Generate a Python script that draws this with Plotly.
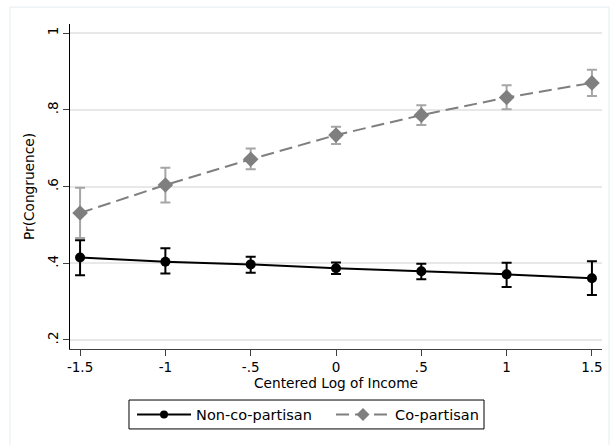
import plotly.graph_objects as go

income = [-1.5, -1, -0.5, 0, 0.5, 1, 1.5]

non_co = [0.415, 0.404, 0.397, 0.387, 0.379, 0.371, 0.361]
non_co_hi = [0.460, 0.439, 0.417, 0.402, 0.399, 0.401, 0.405]
non_co_lo = [0.369, 0.373, 0.375, 0.372, 0.358, 0.338, 0.317]

co = [0.531, 0.604, 0.671, 0.734, 0.786, 0.832, 0.870]
co_hi = [0.597, 0.649, 0.699, 0.756, 0.812, 0.864, 0.904]
co_lo = [0.466, 0.558, 0.645, 0.711, 0.760, 0.801, 0.836]

x_ticks = [-1.5, -1, -0.5, 0, 0.5, 1, 1.5]
x_ticklabels = ["-1.5", "-1", "-.5", "0", ".5", "1", "1.5"]
y_ticks = [0.2, 0.4, 0.6, 0.8, 1.0]
y_ticklabels = [".2", ".4", ".6", ".8", "1"]

FONT = "DejaVu Sans, sans-serif"
CO_LINE = dict(color="#7f7f7f", width=2, dash="13px,6px")

fig = go.Figure()
fig.add_trace(go.Scatter(
    x=income, y=non_co, name="Non-co-partisan", mode="lines+markers",
    line=dict(color="black", width=2),
    marker=dict(symbol="circle", size=10, color="black"),
    showlegend=False,
    error_y=dict(type="data", symmetric=False,
                 array=[h - v for h, v in zip(non_co_hi, non_co)],
                 arrayminus=[v - l for v, l in zip(non_co, non_co_lo)],
                 color="black", thickness=2, width=5),
))
fig.add_trace(go.Scatter(
    x=income, y=co, name="Co-partisan", mode="lines+markers",
    line=CO_LINE,
    marker=dict(symbol="diamond", size=12, color="#7f7f7f"),
    showlegend=False,
    error_y=dict(type="data", symmetric=False,
                 array=[h - v for h, v in zip(co_hi, co)],
                 arrayminus=[v - l for v, l in zip(co, co_lo)],
                 color="#a6a6a6", thickness=2, width=5),
))
# legend entries (smaller symbols, as in the reference key)
fig.add_trace(go.Scatter(x=[None], y=[None], name="Non-co-partisan", mode="lines+markers",
                         line=dict(color="black", width=2),
                         marker=dict(symbol="circle", size=8, color="black")))
fig.add_trace(go.Scatter(x=[None], y=[None], name="Co-partisan", mode="lines+markers",
                         line=CO_LINE,
                         marker=dict(symbol="diamond", size=10, color="#7f7f7f")))

fig.update_layout(
    width=610, height=445,
    margin=dict(l=70, r=8, t=24, b=96, autoexpand=False),
    paper_bgcolor="white", plot_bgcolor="white",
    font=dict(family=FONT, size=13.5, color="black"),
    showlegend=True,
    legend=dict(orientation="h", x=0.1166, y=-0.2015, xanchor="left", yanchor="middle",
                borderwidth=0, font=dict(size=14.5), bgcolor="rgba(0,0,0,0)",
                itemwidth=54, entrywidth=130, tracegroupgap=0),
    xaxis=dict(range=[-1.559, 1.559], tickvals=x_ticks, ticktext=x_ticklabels,
               showgrid=False, zeroline=False, showline=True, linecolor="#404040",
               linewidth=1, ticks="outside", ticklen=6, tickcolor="#404040",
               tickfont=dict(size=13.5),
               title=dict(text="Centered Log of Income", font=dict(size=13.7), standoff=2)),
    yaxis=dict(range=[0.1765, 1.0235], tickvals=y_ticks, ticktext=y_ticklabels,
               showgrid=True, gridcolor="#e8e8e8", gridwidth=2, zeroline=False,
               showline=True, linecolor="black", linewidth=1,
               ticks="outside", ticklen=6, tickcolor="#404040",
               tickangle=-90, tickfont=dict(size=13.5),
               title=dict(text="Pr(Congruence)", font=dict(size=13.7), standoff=6)),
)

# outer frame of the graph region
fig.add_shape(type="rect", xref="paper", yref="paper",
              x0=-0.1128, x1=1.0132, y0=-0.3, y1=1.052,
              line=dict(color="#e3edf0", width=1), layer="below")
# legend key box
fig.add_shape(type="rect", xref="paper", yref="paper",
              x0=0.1109, x1=0.7782, y0=-0.246, y1=-0.157,
              line=dict(color="black", width=1), layer="above")

fig.write_html("out.html")
